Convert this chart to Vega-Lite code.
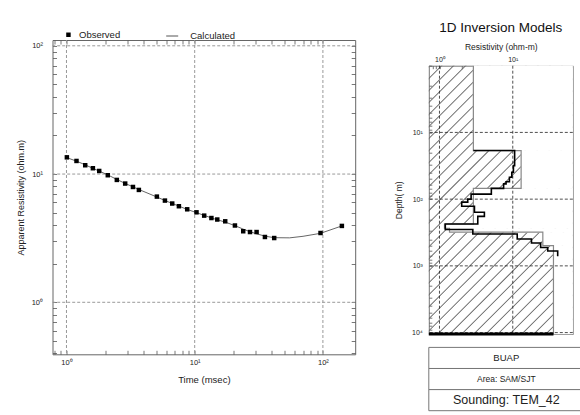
{
  "$schema": "https://vega.github.io/schema/vega-lite/v6.json",
  "background": "white",
  "padding": {"left": 15.5, "top": 20, "right": 0, "bottom": 0},
  "bounds": "flush",
  "spacing": 73.3,
  "resolve": {"scale": {"shape": "independent", "color": "independent"}, "legend": {"shape": "independent", "color": "independent"}},
  "config": {
    "font": "Liberation Sans",
    "axis": {"labelFont": "Liberation Sans", "titleFont": "Liberation Sans", "labelColor": "#222", "titleColor": "#222", "titleFontWeight": "normal", "domain": false, "grid": false, "tickColor": "#555", "tickWidth": 0.8, "labelOverlap": false, "labelBound": false, "labelFlush": false},
    "legend": {"labelFont": "Liberation Sans"},
    "title": {"font": "Liberation Sans"}
  },
  "hconcat": [
    {
      "width": 302.7,
      "height": 314.3,
      "view": {"stroke": "#666"},
      "data": {"values": [
        {"series": "Observed", "t": 1.007, "rho": 13.5},
        {"series": "Observed", "t": 1.197, "rho": 12.65},
        {"series": "Observed", "t": 1.40, "rho": 11.71},
        {"series": "Observed", "t": 1.607, "rho": 11.1},
        {"series": "Observed", "t": 1.80, "rho": 10.57},
        {"series": "Observed", "t": 2.10, "rho": 9.79},
        {"series": "Observed", "t": 2.47, "rho": 9.0},
        {"series": "Observed", "t": 2.87, "rho": 8.43},
        {"series": "Observed", "t": 3.30, "rho": 7.93},
        {"series": "Observed", "t": 3.67, "rho": 7.52},
        {"series": "Observed", "t": 5.07, "rho": 6.67},
        {"series": "Observed", "t": 5.86, "rho": 6.21},
        {"series": "Observed", "t": 6.68, "rho": 5.89},
        {"series": "Observed", "t": 7.53, "rho": 5.61},
        {"series": "Observed", "t": 8.74, "rho": 5.31},
        {"series": "Observed", "t": 10.33, "rho": 5.03},
        {"series": "Observed", "t": 11.86, "rho": 4.74},
        {"series": "Observed", "t": 13.5, "rho": 4.54},
        {"series": "Observed", "t": 15.0, "rho": 4.42},
        {"series": "Observed", "t": 17.3, "rho": 4.28},
        {"series": "Observed", "t": 20.6, "rho": 3.97},
        {"series": "Observed", "t": 23.9, "rho": 3.58},
        {"series": "Observed", "t": 27.0, "rho": 3.53},
        {"series": "Observed", "t": 30.4, "rho": 3.53},
        {"series": "Observed", "t": 35.3, "rho": 3.23},
        {"series": "Observed", "t": 41.7, "rho": 3.17},
        {"series": "Observed", "t": 95.8, "rho": 3.47},
        {"series": "Observed", "t": 140.6, "rho": 3.94},
        {"series": "Calculated", "t": 1.0, "rho": 13.45},
        {"series": "Calculated", "t": 1.2, "rho": 12.6},
        {"series": "Calculated", "t": 1.4, "rho": 11.8},
        {"series": "Calculated", "t": 1.6, "rho": 11.1},
        {"series": "Calculated", "t": 1.8, "rho": 10.55},
        {"series": "Calculated", "t": 2.1, "rho": 9.85},
        {"series": "Calculated", "t": 2.47, "rho": 9.08},
        {"series": "Calculated", "t": 2.87, "rho": 8.45},
        {"series": "Calculated", "t": 3.3, "rho": 7.95},
        {"series": "Calculated", "t": 3.67, "rho": 7.58},
        {"series": "Calculated", "t": 5.07, "rho": 6.62},
        {"series": "Calculated", "t": 5.86, "rho": 6.22},
        {"series": "Calculated", "t": 6.68, "rho": 5.9},
        {"series": "Calculated", "t": 7.53, "rho": 5.62},
        {"series": "Calculated", "t": 8.74, "rho": 5.3},
        {"series": "Calculated", "t": 10.33, "rho": 5.0},
        {"series": "Calculated", "t": 11.86, "rho": 4.76},
        {"series": "Calculated", "t": 13.5, "rho": 4.55},
        {"series": "Calculated", "t": 15.0, "rho": 4.4},
        {"series": "Calculated", "t": 17.3, "rho": 4.22},
        {"series": "Calculated", "t": 20.6, "rho": 3.96},
        {"series": "Calculated", "t": 23.9, "rho": 3.72},
        {"series": "Calculated", "t": 27.0, "rho": 3.55},
        {"series": "Calculated", "t": 30.4, "rho": 3.42},
        {"series": "Calculated", "t": 35.3, "rho": 3.28},
        {"series": "Calculated", "t": 41.7, "rho": 3.19},
        {"series": "Calculated", "t": 55, "rho": 3.18},
        {"series": "Calculated", "t": 70, "rho": 3.27},
        {"series": "Calculated", "t": 95.8, "rho": 3.45},
        {"series": "Calculated", "t": 140.6, "rho": 3.94}
      ]},
      "layer": [
        {
          "data": {"values": [{"g": 1}, {"g": 10}, {"g": 100}]},
          "mark": {"type": "rule", "color": "#999", "strokeDash": [3, 2], "strokeWidth": 1},
          "encoding": {"x": {"field": "g", "type": "quantitative", "scale": {"type": "log", "domain": [0.778, 178.6], "nice": false}, "axis": null}}
        },
        {
          "data": {"values": [{"g": 1}, {"g": 10}, {"g": 100}]},
          "mark": {"type": "rule", "color": "#999", "strokeDash": [3, 2], "strokeWidth": 1},
          "encoding": {"y": {"field": "g", "type": "quantitative", "scale": {"type": "log", "domain": [0.393, 111], "nice": false}, "axis": null}}
        },
        {
          "transform": [{"filter": "datum.series === 'Calculated'"}],
          "mark": {"type": "line", "strokeWidth": 0.9},
          "encoding": {
            "x": {"field": "t", "type": "quantitative", "scale": {"type": "log", "domain": [0.778, 178.6], "nice": false},
              "axis": {"orient": "top", "values": [0.8, 0.9, 1, 2, 3, 4, 5, 6, 7, 8, 9, 10, 20, 30, 40, 50, 60, 70, 80, 90, 100], "labels": false, "title": null, "tickSize": -4}},
            "y": {"field": "rho", "type": "quantitative", "scale": {"type": "log", "domain": [0.393, 111], "nice": false},
              "axis": {"orient": "right", "values": [0.4, 0.5, 0.6, 0.7, 0.8, 0.9, 1, 2, 3, 4, 5, 6, 7, 8, 9, 10, 20, 30, 40, 50, 60, 70, 80, 90, 100], "labels": false, "title": null, "tickSize": -4}},
            "color": {"field": "series", "type": "nominal", "scale": {"domain": ["Calculated"], "range": ["#555555"]},
              "legend": {"orient": "none", "legendX": 113.2, "legendY": -10.5, "title": null, "labelFontSize": 9.5, "labelColor": "#222", "labelOffset": 11.5, "symbolSize": 144, "symbolStrokeWidth": 1}}
          }
        },
        {
          "transform": [{"filter": "datum.series === 'Observed'"}],
          "mark": {"type": "point", "filled": true, "color": "black", "opacity": 1, "size": 20},
          "encoding": {
            "x": {"field": "t", "type": "quantitative", "scale": {"type": "log", "domain": [0.778, 178.6], "nice": false},
              "axis": {"orient": "bottom", "values": [0.8, 0.9, 1, 2, 3, 4, 5, 6, 7, 8, 9, 10, 20, 30, 40, 50, 60, 70, 80, 90, 100], "labelExpr": "datum.value == 1 ? '10⁰' : datum.value == 10 ? '10¹' : datum.value == 100 ? '10²' : ''", "tickSize": -4, "labelPadding": 8, "labelFontSize": 7.5, "title": "Time (msec)", "titleFontSize": 9.5, "titlePadding": 9}},
            "y": {"field": "rho", "type": "quantitative", "scale": {"type": "log", "domain": [0.393, 111], "nice": false},
              "axis": {"orient": "left", "values": [0.4, 0.5, 0.6, 0.7, 0.8, 0.9, 1, 2, 3, 4, 5, 6, 7, 8, 9, 10, 20, 30, 40, 50, 60, 70, 80, 90, 100], "labelExpr": "datum.value == 1 ? '10⁰' : datum.value == 10 ? '10¹' : datum.value == 100 ? '10²' : ''", "tickSize": -4, "labelPadding": 14, "labelFontSize": 7.5, "title": "Apparent Resistivity (ohm.m)", "titleFontSize": 9, "titlePadding": 5.3}},
            "shape": {"field": "series", "type": "nominal", "scale": {"domain": ["Observed"], "range": ["square"]},
              "legend": {"orient": "none", "legendX": 11.2, "legendY": -10, "title": null, "labelFontSize": 9.5, "labelColor": "#222", "labelOffset": 5.8, "symbolSize": 20, "symbolFillColor": "black"}}
          }
        }
      ],
      "resolve": {"axis": {"x": "independent", "y": "independent"}}
    },
    {
      "bounds": "flush",
      "spacing": 12.7,
      "vconcat": [
        {
          "width": 144,
          "height": 12.3,
          "view": {"stroke": null},
          "data": {"values": []},
          "mark": {"type": "point", "opacity": 0}
        },
        {
          "width": 144,
          "height": 268.3,
          "view": {"stroke": "#777"},
          "title": {"text": "1D Inversion Models", "fontSize": 13.5, "fontWeight": "normal", "color": "#111", "offset": 8, "anchor": "middle"},
          "layer": [
            {
              "data": {"values": [{}]},
              "mark": {"type": "rule", "color": "#666", "strokeWidth": 420, "strokeDash": [0.9, 7.6], "strokeCap": "butt", "clip": true},
              "encoding": {
                "x": {"datum": 0.2786, "type": "quantitative", "scale": {"type": "log", "domain": [0.715, 65.9], "nice": false},
                  "axis": {"orient": "top", "values": [0.8, 0.9, 1, 2, 3, 4, 5, 6, 7, 8, 9, 10, 20, 30, 40, 50, 60], "labelExpr": "datum.value == 1 ? '10⁰' : datum.value == 10 ? '10¹' : ''", "tickSize": -3, "labelPadding": 6, "labelFontSize": 7, "title": "Resistivity (ohm-m)", "titleFontSize": 8.5, "titlePadding": 4}},
                "x2": {"datum": 8854},
                "y": {"datum": 0.3552, "type": "quantitative", "scale": {"type": "log", "domain": [1, 10500], "nice": false, "reverse": true},
                  "axis": {"orient": "left", "values": [1, 2, 3, 4, 5, 6, 7, 8, 9, 10, 20, 30, 40, 50, 60, 70, 80, 90, 100, 200, 300, 400, 500, 600, 700, 800, 900, 1000, 2000, 3000, 4000, 5000, 6000, 7000, 8000, 9000, 10000], "labelExpr": "datum.value == 10 ? '10¹' : datum.value == 100 ? '10²' : datum.value == 1000 ? '10³' : datum.value == 10000 ? '10⁴' : ''", "tickSize": -3, "labelPadding": 9.5, "labelFontSize": 7, "title": "Depth( m)", "titleFontSize": 8.5, "titlePadding": 8}},
                "y2": {"datum": 31360}
              }
            },
            {
              "data": {"values": [
                {"rho": 2.9, "d1": 1, "d2": 18.7},
                {"rho": 13.0, "d1": 18.7, "d2": 69},
                {"rho": 2.9, "d1": 69, "d2": 236},
                {"rho": 1.17, "d1": 236, "d2": 273},
                {"rho": 1.37, "d1": 273, "d2": 313},
                {"rho": 25.7, "d1": 313, "d2": 498},
                {"rho": 35.9, "d1": 498, "d2": 10500}
              ]},
              "mark": {"type": "rect", "fill": "white", "stroke": "white", "strokeWidth": 0.6},
              "encoding": {
                "x": {"field": "rho", "type": "quantitative", "scale": {"type": "log", "domain": [0.715, 65.9], "nice": false}, "axis": null},
                "x2": {"datum": 65.9},
                "y": {"field": "d1", "type": "quantitative", "scale": {"type": "log", "domain": [1, 10500], "nice": false, "reverse": true}, "axis": null},
                "y2": {"field": "d2"}
              }
            },
            {
              "data": {"values": [{"g": 1}, {"g": 10}]},
              "mark": {"type": "rule", "color": "#222", "strokeDash": [3, 2], "strokeWidth": 0.8},
              "encoding": {"x": {"field": "g", "type": "quantitative", "scale": {"type": "log", "domain": [0.715, 65.9], "nice": false}, "axis": null}}
            },
            {
              "data": {"values": [{"g": 10}, {"g": 100}, {"g": 1000}, {"g": 10000}]},
              "mark": {"type": "rule", "color": "#222", "strokeDash": [3, 2], "strokeWidth": 0.8},
              "encoding": {"y": {"field": "g", "type": "quantitative", "scale": {"type": "log", "domain": [1, 10500], "nice": false, "reverse": true}, "axis": null}}
            },
            {
              "data": {"values": [
                {"i": 1, "rho": 2.9, "depth": 1},
                {"i": 2, "rho": 2.9, "depth": 18.7},
                {"i": 3, "rho": 13.0, "depth": 18.7},
                {"i": 4, "rho": 13.0, "depth": 69},
                {"i": 5, "rho": 2.9, "depth": 69},
                {"i": 6, "rho": 2.9, "depth": 236},
                {"i": 7, "rho": 1.17, "depth": 236},
                {"i": 8, "rho": 1.17, "depth": 273},
                {"i": 9, "rho": 1.37, "depth": 273},
                {"i": 10, "rho": 1.37, "depth": 313},
                {"i": 11, "rho": 25.7, "depth": 313},
                {"i": 12, "rho": 25.7, "depth": 498},
                {"i": 13, "rho": 35.9, "depth": 498},
                {"i": 14, "rho": 35.9, "depth": 10500}
              ]},
              "mark": {"type": "line", "color": "#888", "strokeWidth": 1.2},
              "encoding": {
                "x": {"field": "rho", "type": "quantitative", "scale": {"type": "log", "domain": [0.715, 65.9], "nice": false}, "axis": null},
                "y": {"field": "depth", "type": "quantitative", "scale": {"type": "log", "domain": [1, 10500], "nice": false, "reverse": true}, "axis": null},
                "order": {"field": "i"}
              }
            },
            {
              "data": {"values": [
                {"i": 1, "rho": 2.9, "depth": 18.7}, {"i": 2, "rho": 10.6, "depth": 18.7},
                {"i": 3, "rho": 10.6, "depth": 31.5}, {"i": 4, "rho": 10.2, "depth": 31.5},
                {"i": 5, "rho": 10.2, "depth": 39.5}, {"i": 6, "rho": 9.7, "depth": 39.5},
                {"i": 7, "rho": 9.7, "depth": 47}, {"i": 8, "rho": 9.0, "depth": 47},
                {"i": 9, "rho": 9.0, "depth": 55}, {"i": 10, "rho": 8.1, "depth": 55},
                {"i": 11, "rho": 8.1, "depth": 59}, {"i": 12, "rho": 7.5, "depth": 59},
                {"i": 13, "rho": 7.5, "depth": 69}, {"i": 14, "rho": 5.1, "depth": 69},
                {"i": 15, "rho": 5.1, "depth": 84}, {"i": 16, "rho": 2.7, "depth": 84},
                {"i": 17, "rho": 2.7, "depth": 100}, {"i": 18, "rho": 2.43, "depth": 100},
                {"i": 19, "rho": 2.43, "depth": 111}, {"i": 20, "rho": 2.01, "depth": 111},
                {"i": 21, "rho": 2.01, "depth": 128}, {"i": 22, "rho": 3.0, "depth": 128},
                {"i": 23, "rho": 3.0, "depth": 157}, {"i": 24, "rho": 4.1, "depth": 157},
                {"i": 25, "rho": 4.1, "depth": 181}, {"i": 26, "rho": 3.33, "depth": 181},
                {"i": 27, "rho": 3.33, "depth": 236}, {"i": 28, "rho": 1.2, "depth": 236},
                {"i": 29, "rho": 1.2, "depth": 285}, {"i": 30, "rho": 2.85, "depth": 285},
                {"i": 31, "rho": 2.85, "depth": 333}, {"i": 32, "rho": 11.5, "depth": 333},
                {"i": 33, "rho": 11.5, "depth": 395}, {"i": 34, "rho": 18, "depth": 395},
                {"i": 35, "rho": 18, "depth": 455}, {"i": 36, "rho": 24, "depth": 455},
                {"i": 37, "rho": 24, "depth": 530}, {"i": 38, "rho": 30, "depth": 530},
                {"i": 39, "rho": 30, "depth": 600}, {"i": 40, "rho": 41, "depth": 600},
                {"i": 41, "rho": 41, "depth": 720}
              ]},
              "mark": {"type": "line", "color": "black", "strokeWidth": 1.6},
              "encoding": {
                "x": {"field": "rho", "type": "quantitative", "scale": {"type": "log", "domain": [0.715, 65.9], "nice": false}, "axis": null},
                "y": {"field": "depth", "type": "quantitative", "scale": {"type": "log", "domain": [1, 10500], "nice": false, "reverse": true}, "axis": null},
                "order": {"field": "i"}
              }
            },
            {
              "data": {"values": [{"a": 0.715, "b": 35.9, "d": 10500}]},
              "mark": {"type": "rule", "color": "black", "strokeWidth": 3},
              "encoding": {
                "x": {"field": "a", "type": "quantitative", "scale": {"type": "log", "domain": [0.715, 65.9], "nice": false}, "axis": null},
                "x2": {"field": "b"},
                "y": {"field": "d", "type": "quantitative", "scale": {"type": "log", "domain": [1, 10500], "nice": false, "reverse": true}, "axis": null}
              }
            }
          ],
          "resolve": {"axis": {"x": "independent", "y": "independent"}}
        },
        {
          "width": 155,
          "height": 63.3,
          "view": {"stroke": null},
          "data": {"values": [{"row": "BUAP"}, {"row": "Area: SAM/SJT"}, {"row": "Sounding: TEM_42"}]},
          "layer": [
            {
              "mark": {"type": "rect", "fill": "white", "stroke": "#777", "strokeWidth": 1},
              "encoding": {"y": {"field": "row", "type": "nominal", "sort": null, "scale": {"paddingInner": 0, "paddingOuter": 0}, "axis": null}}
            },
            {
              "transform": [{"filter": "datum.row === 'BUAP'"}],
              "mark": {"type": "text", "font": "Liberation Sans", "color": "#222", "fontSize": 9.5},
              "encoding": {
                "y": {"field": "row", "type": "nominal", "sort": null, "scale": {"paddingInner": 0, "paddingOuter": 0}, "axis": null},
                "text": {"field": "row"}
              }
            },
            {
              "transform": [{"filter": "datum.row === 'Area: SAM/SJT'"}],
              "mark": {"type": "text", "font": "Liberation Sans", "color": "#222", "fontSize": 8.5},
              "encoding": {
                "y": {"field": "row", "type": "nominal", "sort": null, "scale": {"paddingInner": 0, "paddingOuter": 0}, "axis": null},
                "text": {"field": "row"}
              }
            },
            {
              "transform": [{"filter": "datum.row === 'Sounding: TEM_42'"}],
              "mark": {"type": "text", "font": "Liberation Sans", "color": "#222", "fontSize": 12.5},
              "encoding": {
                "y": {"field": "row", "type": "nominal", "sort": null, "scale": {"paddingInner": 0, "paddingOuter": 0}, "axis": null},
                "text": {"field": "row"}
              }
            }
          ]
        }
      ]
    }
  ]
}
